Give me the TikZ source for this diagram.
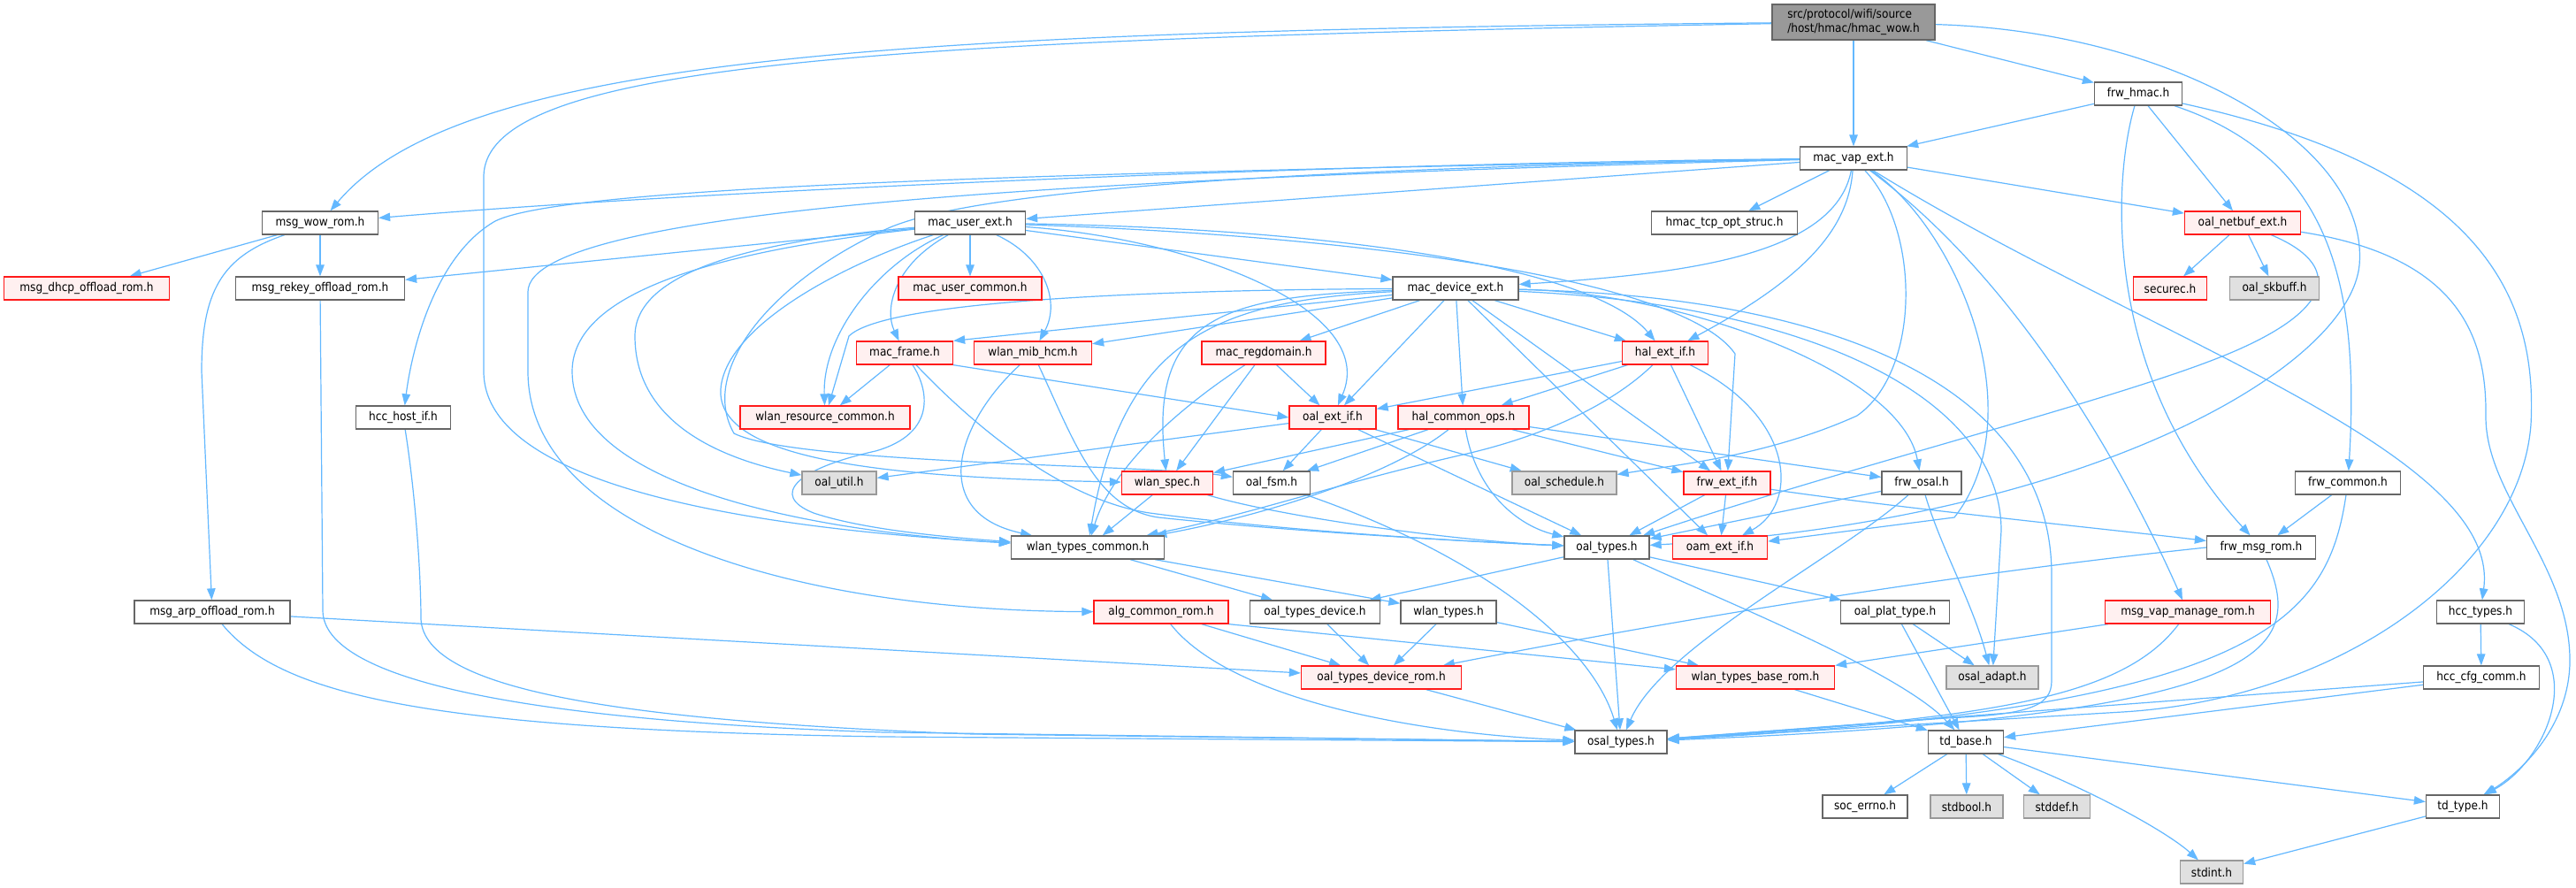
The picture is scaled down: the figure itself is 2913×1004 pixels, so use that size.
\documentclass[tikz,border=0pt]{standalone}
\usepackage{fontspec}
\setmainfont{DejaVu Sans Condensed}
\usetikzlibrary{arrows.meta}
\definecolor{edgec}{HTML}{63B8FF}
\definecolor{redf}{HTML}{FFF0F0}
\definecolor{extf}{HTML}{E0E0E0}
\definecolor{bordc}{HTML}{666666}
\definecolor{extb}{HTML}{999999}
\definecolor{topf}{HTML}{999999}
\definecolor{redb}{HTML}{FF1A1A}
\pgfdeclarelayer{bg}
\pgfsetlayers{bg,main}
\tikzset{
  nd/.style={draw=bordc, fill=white, line width=1.3pt, minimum height=26pt, inner sep=2pt,
    font=\fontsize{13.5}{16}\selectfont, text=black},
  rd/.style={nd, draw=redb, fill=redf},
  gx/.style={nd, draw=extb, fill=extf},
  e/.style={draw=edgec, line width=1.2pt, -{Triangle[length=13pt,width=9.5pt]}}
}
\begin{document}
\begin{tikzpicture}[x=1pt,y=-1pt]
\useasboundingbox (0,0) rectangle (2913,1004);
% nodes
\node[nd,minimum width=184pt,minimum height=40pt,fill=topf,align=left] (T) at (2096,25) {src/protocol/wifi/source\\/host/hmac/hmac\_wow.h};
\node[nd,minimum width=99pt] (frw) at (2418,106) {frw\_hmac.h};
\node[nd,minimum width=121pt] (mvap) at (2096,179) {mac\_vap\_ext.h};
\node[nd,minimum width=131pt] (mwow) at (362,252) {msg\_wow\_rom.h};
\node[nd,minimum width=125pt] (mue) at (1097,252) {mac\_user\_ext.h};
\node[nd,minimum width=165pt] (htcp) at (1950,252) {hmac\_tcp\_opt\_struc.h};
\node[rd,minimum width=131pt] (onb) at (2536,252) {oal\_netbuf\_ext.h};
\node[rd,minimum width=187pt] (mdhcp) at (98,326) {msg\_dhcp\_offload\_rom.h};
\node[nd,minimum width=191pt] (mrk) at (362,326) {msg\_rekey\_offload\_rom.h};
\node[rd,minimum width=162pt] (muc) at (1097,326) {mac\_user\_common.h};
\node[nd,minimum width=142pt] (mde) at (1646,326) {mac\_device\_ext.h};
\node[rd,minimum width=83pt] (sec) at (2454,326) {securec.h};
\node[gx,minimum width=101pt] (osk) at (2572,326) {oal\_skbuff.h};
\node[rd,minimum width=109pt] (mfr) at (1023,399) {mac\_frame.h};
\node[rd,minimum width=133pt] (wmh) at (1168,399) {wlan\_mib\_hcm.h};
\node[rd,minimum width=140pt] (mrd) at (1429,399) {mac\_regdomain.h};
\node[rd,minimum width=97pt] (hei) at (1883,399) {hal\_ext\_if.h};
\node[nd,minimum width=107pt] (hhi) at (456,472) {hcc\_host\_if.h};
\node[rd,minimum width=192pt] (wrc) at (933,472) {wlan\_resource\_common.h};
\node[rd,minimum width=98pt] (oei) at (1507,472) {oal\_ext\_if.h};
\node[rd,minimum width=148pt] (hco) at (1655,472) {hal\_common\_ops.h};
\node[gx,minimum width=84pt] (outil) at (949,546) {oal\_util.h};
\node[rd,minimum width=103pt] (wsp) at (1320,546) {wlan\_spec.h};
\node[nd,minimum width=87pt] (ofsm) at (1438,546) {oal\_fsm.h};
\node[gx,minimum width=118pt] (osch) at (1769,546) {oal\_schedule.h};
\node[rd,minimum width=98pt] (fei) at (1953,546) {frw\_ext\_if.h};
\node[nd,minimum width=90pt] (fos) at (2173,546) {frw\_osal.h};
\node[nd,minimum width=119pt] (fcom) at (2655,546) {frw\_common.h};
\node[nd,minimum width=173pt] (wtc) at (1230,619) {wlan\_types\_common.h};
\node[nd,minimum width=96pt] (oty) at (1817,619) {oal\_types.h};
\node[rd,minimum width=107pt] (oam) at (1945,619) {oam\_ext\_if.h};
\node[nd,minimum width=123pt] (fmr) at (2557,619) {frw\_msg\_rom.h};
\node[nd,minimum width=176pt] (marp) at (240,692) {msg\_arp\_offload\_rom.h};
\node[rd,minimum width=152pt] (alg) at (1313,692) {alg\_common\_rom.h};
\node[nd,minimum width=147pt] (otd) at (1487,692) {oal\_types\_device.h};
\node[nd,minimum width=108pt] (wty) at (1638,692) {wlan\_types.h};
\node[nd,minimum width=123pt] (opt) at (2143,692) {oal\_plat\_type.h};
\node[rd,minimum width=187pt] (mvm) at (2474,692) {msg\_vap\_manage\_rom.h};
\node[nd,minimum width=99pt] (hct) at (2805,692) {hcc\_types.h};
\node[rd,minimum width=181pt] (otdr) at (1562,766) {oal\_types\_device\_rom.h};
\node[rd,minimum width=179pt] (wtbr) at (1985,766) {wlan\_types\_base\_rom.h};
\node[gx,minimum width=104pt] (oad) at (2253,766) {osal\_adapt.h};
\node[nd,minimum width=131pt] (hcc) at (2806,766) {hcc\_cfg\_comm.h};
\node[nd,minimum width=104pt] (ost) at (1833,839) {osal\_types.h};
\node[nd,minimum width=85pt] (tdb) at (2223,839) {td\_base.h};
\node[nd,minimum width=96pt] (soc) at (2109,912) {soc\_errno.h};
\node[gx,minimum width=82pt] (sbool) at (2224,912) {stdbool.h};
\node[gx,minimum width=75pt] (sdef) at (2326,912) {stddef.h};
\node[nd,minimum width=83pt] (tdt) at (2785,912) {td\_type.h};
\node[gx,minimum width=71pt] (sint) at (2501,986) {stdint.h};

\begin{pgfonlayer}{bg}
\fill[white] (0,0) rectangle (2913,1004);
% top node
\draw[e] (T) -- (mvap);
\draw[e] (T) -- (frw);
\draw[e] (T) .. controls (1000,35) and (520,65) .. (mwow);
\draw[e] (T) .. controls (1000,45) and (547,70) .. (547,200) -- (547,420) .. controls (547,560) and (900,600) .. (wtc);
\draw[e] (T) .. controls (2450,35) and (2680,160) .. (2668,300) .. controls (2655,420) and (2350,590) .. (oty);
% frw_hmac
\draw[e] (frw) -- (mvap);
\draw[e] (frw) .. controls (2390,200) and (2375,420) .. (fmr);
\draw[e] (frw) -- (onb);
\draw[e] (frw) .. controls (2640,180) and (2668,330) .. (fcom);
\draw[e] (frw) .. controls (2800,190) and (2870,330) .. (2862,480) .. controls (2850,640) and (2650,790) .. (2400,805) -- (ost);
% mac_vap_ext
\draw[e] (mvap) .. controls (1500,185) and (800,215) .. (mwow);
\draw[e] (mvap) -- (mue);
\draw[e] (mvap) .. controls (1200,195) and (640,210) .. (560,250) .. controls (490,290) and (465,400) .. (hhi);
\draw[e] (mvap) .. controls (1300,200) and (597,230) .. (597,330) -- (597,420) .. controls (597,600) and (900,690) .. (alg);
\draw[e] (mvap) -- (htcp);
\draw[e] (mvap) .. controls (2075,290) and (1900,310) .. (mde);
\draw[e] (mvap) .. controls (2090,265) and (2030,320) .. (hei);
\draw[e] (mvap) .. controls (2172,260) and (2172,420) .. (2100,470) .. controls (2000,515) and (1900,525) .. (osch);
\draw[e] (mvap) -- (onb);
\draw[e] (mvap) .. controls (2420,380) and (2830,510) .. (hct);
\draw[e] (mvap) .. controls (2300,330) and (2420,570) .. (mvm);
\draw[e] (mvap) .. controls (2215,260) and (2300,470) .. (2210,585) -- (oam);
\draw[e] (mvap) .. controls (1500,190) and (1100,212) .. (1000,260) .. controls (870,320) and (790,420) .. (830,490) .. controls (900,525) and (1300,525) .. (ofsm);
% mac_user_ext
\draw[e] (mue) -- (mrk);
\draw[e] (mue) -- (muc);
\draw[e] (mue) .. controls (1010,300) and (1000,350) .. (mfr);
\draw[e] (mue) .. controls (1180,290) and (1200,340) .. (wmh);
\draw[e] (mue) .. controls (990,300) and (930,380) .. (wrc);
\draw[e] (mue) .. controls (880,270) and (718,300) .. (718,380) .. controls (718,470) and (800,515) .. (outil);
\draw[e] (mue) .. controls (850,280) and (647,320) .. (647,420) .. controls (647,545) and (900,600) .. (wtc);
\draw[e] (mue) .. controls (950,300) and (820,370) .. (815,440) .. controls (810,520) and (1000,540) .. (wsp);
\draw[e] (mue) -- (mde);
\draw[e] (mue) .. controls (1500,258) and (1800,300) .. (hei);
\draw[e] (mue) .. controls (1500,265) and (1900,310) .. (1962,400) -- (fei);
\draw[e] (mue) .. controls (1350,270) and (1560,350) .. (oei);
% mac_device_ext
\draw[e] (mde) -- (mfr.north east);
\draw[e] (mde) -- (wmh);
\draw[e] (mde) -- (mrd);
\draw[e] (mde) .. controls (1300,328) and (1000,340) .. (960,380) -- (wrc);
\draw[e] (mde) .. controls (1380,335) and (1300,360) .. (wsp);
\draw[e] (mde) .. controls (1380,340) and (1270,380) .. (wtc);
\draw[e] (mde) -- (oei);
\draw[e] (mde) -- (hco);
\draw[e] (mde) -- (hei);
\draw[e] (mde) -- (oam);
\draw[e] (mde) -- (fei);
\draw[e] (mde) .. controls (1900,330) and (2150,420) .. (fos);
\draw[e] (mde) .. controls (2050,345) and (2263,450) .. (2263,600) -- (oad);
\draw[e] (mde) .. controls (2100,335) and (2320,450) .. (2320,650) -- (2320,770) .. controls (2320,800) and (2290,808) .. (2200,812) -- (ost);
% mac_frame
\draw[e] (mfr) -- (wrc);
\draw[e] (mfr.south east) -- (oei.west);
\draw[e] (mfr) .. controls (1050,440) and (1060,490) .. (990,510) .. controls (900,530) and (870,560) .. (920,580) .. controls (980,600) and (1080,608) .. (wtc);
\draw[e] (mfr) .. controls (1100,480) and (1200,565) .. (1300,580) .. controls (1450,600) and (1650,612) .. (oty);
% wlan_mib_hcm
\draw[e] (wmh) .. controls (1080,480) and (1050,580) .. (wtc);
\draw[e] (wmh) .. controls (1215,500) and (1240,575) .. (1310,585) .. controls (1450,600) and (1650,612) .. (oty);
% mac_regdomain
\draw[e] (mrd) .. controls (1350,450) and (1260,520) .. (wtc);
\draw[e] (mrd) -- (wsp);
\draw[e] (mrd) -- (oei);
% hal_ext_if
\draw[e] (hei) -- (oei);
\draw[e] (hei) -- (hco);
\draw[e] (hei) .. controls (1820,460) and (1740,495) .. (1650,515) .. controls (1500,550) and (1420,580) .. (wtc);
\draw[e] (hei) -- (fei);
\draw[e] (hei) .. controls (2030,470) and (2035,570) .. (oam);
% hal_common_ops
\draw[e] (hco) -- (wsp);
\draw[e] (hco) -- (ofsm);
\draw[e] (hco) .. controls (1570,540) and (1420,585) .. (wtc);
\draw[e] (hco) .. controls (1670,560) and (1720,595) .. (oty);
\draw[e] (hco) -- (fei);
\draw[e] (hco) -- (fos);
% oal_ext_if
\draw[e] (oei) -- (outil);
\draw[e] (oei) -- (ofsm);
\draw[e] (oei) -- (osch);
\draw[e] (oei) -- (oty);
% wlan_spec, oal_fsm
\draw[e] (wsp) -- (wtc);
\draw[e] (wsp) .. controls (1450,585) and (1650,612) .. (oty);
\draw[e] (ofsm) .. controls (1680,630) and (1800,730) .. (ost);
% frw_ext_if, frw_osal
\draw[e] (fei) -- (oty);
\draw[e] (fei) -- (oam);
\draw[e] (fei) .. controls (2150,575) and (2400,600) .. (fmr);
\draw[e] (fos) -- (oty);
\draw[e] (fos) .. controls (2080,630) and (1880,730) .. (ost);
\draw[e] (fos) .. controls (2195,620) and (2230,680) .. (oad);
% oal_types
\draw[e] (oty) -- (otd);
\draw[e] (oty) -- (ost);
\draw[e] (oty) -- (opt);
\draw[e] (oty) .. controls (1950,680) and (2150,760) .. (tdb);
% wlan_types_common
\draw[e] (wtc) -- (otd);
\draw[e] (wtc) -- (wty);
% msg_wow_rom branch
\draw[e] (mwow) -- (mdhcp);
\draw[e] (mwow) -- (mrk);
\draw[e] (mwow) .. controls (250,290) and (228,330) .. (228,420) -- (marp);
\draw[e] (mrk) -- (365,690) .. controls (365,770) and (600,815) .. (1000,828) -- (ost);
\draw[e] (hhi) .. controls (470,560) and (476,650) .. (476,700) .. controls (480,780) and (700,815) .. (1100,830) -- (ost);
\draw[e] (marp) .. controls (320,790) and (500,825) .. (1000,833) -- (ost);
\draw[e] (marp) -- (otdr);
% lower part
\draw[e] (alg) -- (otdr);
\draw[e] (alg.south east) -- (wtbr);
\draw[e] (alg) .. controls (1390,790) and (1600,830) .. (ost);
\draw[e] (otd) -- (otdr);
\draw[e] (wty) -- (otdr);
\draw[e] (wty) -- (wtbr);
\draw[e] (otdr) -- (ost);
\draw[e] (wtbr) -- (tdb);
\draw[e] (opt) -- (oad);
\draw[e] (opt) -- (tdb);
\draw[e] (mvm) -- (wtbr);
\draw[e] (mvm) .. controls (2400,790) and (2250,812) .. (ost);
\draw[e] (fmr.west) .. controls (2200,650) and (1900,700) .. (otdr);
\draw[e] (fmr) .. controls (2610,740) and (2560,810) .. (ost);
\draw[e] (fcom) -- (fmr);
\draw[e] (fcom) .. controls (2632,700) and (2560,800) .. (ost);
\draw[e] (hct) -- (hcc);
\draw[e] (hct) .. controls (2930,745) and (2880,860) .. (tdt);
\draw[e] (hcc) -- (ost);
\draw[e] (hcc) -- (tdb);
% oal_netbuf_ext
\draw[e] (onb) -- (sec);
\draw[e] (onb) -- (osk);
\draw[e] (onb) .. controls (2650,300) and (2640,350) .. (2520,400) .. controls (2400,450) and (2100,525) .. (oty);
\draw[e] (onb) .. controls (2780,290) and (2812,380) .. (2811,470) .. controls (2810,560) and (2908,640) .. (2906,750) .. controls (2904,830) and (2840,880) .. (tdt);
% td_base
\draw[e] (tdb) -- (soc);
\draw[e] (tdb) -- (sbool);
\draw[e] (tdb) -- (sdef);
\draw[e] (tdb) -- (tdt);
\draw[e] (tdb) .. controls (2360,890) and (2450,940) .. (sint);
\draw[e] (tdt) -- (sint);
\end{pgfonlayer}
\end{tikzpicture}
\end{document}
